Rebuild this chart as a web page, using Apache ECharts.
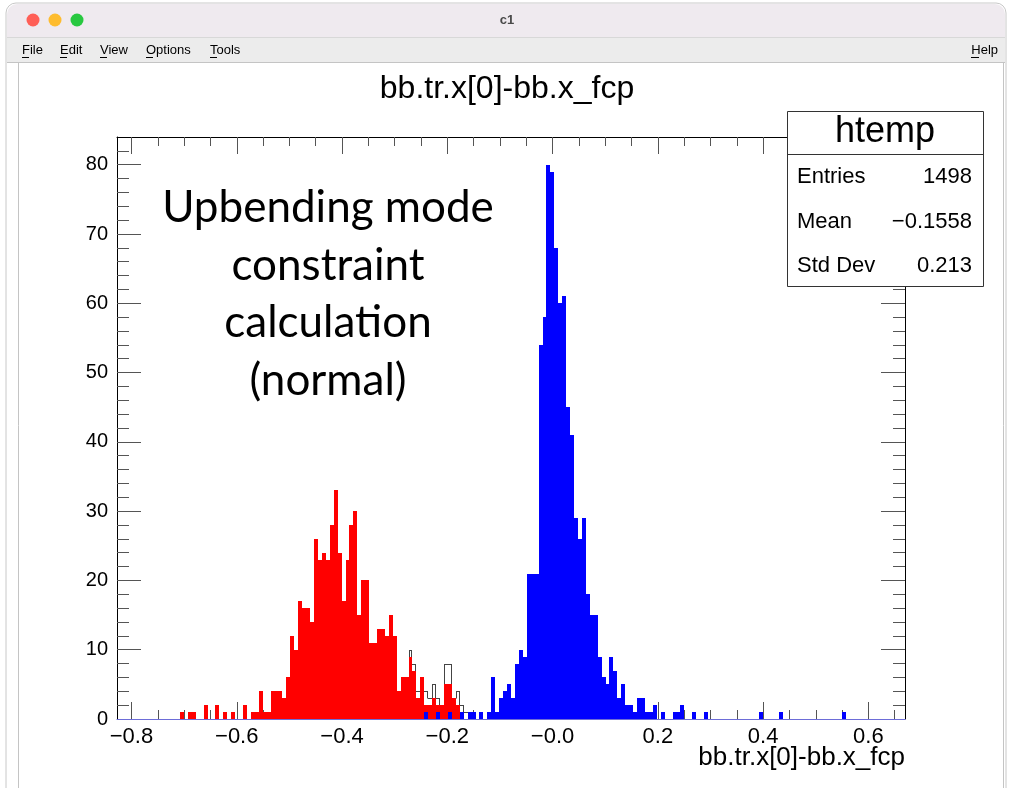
<!DOCTYPE html>
<html><head><meta charset="utf-8">
<script src="https://cdn.jsdelivr.net/npm/echarts@6/dist/echarts.min.js"></script>
<style>html,body{margin:0;padding:0;background:#ffffff;} #c{width:1012px;height:788px;}</style>
</head><body><div id="c"></div>
<script>
// ---- histogram definition ----
const X_MIN = -0.8275, X_MAX = 0.6695, N_BINS = 200;
const Y_MIN = 0, Y_MAX = 84;

// red selection (bin index of first value = RED_FIRST_BIN)
const RED_FIRST_BIN = 16;
const redCounts = [1,0,1,1,0,0,2,0,0,2,0,1,0,1,0,0,2,0,1,1,4,1,1,4,4,4,3,6,12,10,17,16,16,14,26,23,24,23,28,33,24,17,23,28,30,15,20,20,11,11,13,13,12,15,12,4,6,6,9,7,3,6,2,2,3,2,2,5,5,3,2,1];

// blue selection
const BLUE_FIRST_BIN = 78;
const blueCounts = [1,0,0,1,0,0,1,0,0,1,0,1,1,0,1,0,1,6,1,3,4,5,3,8,10,9,21,21,21,54,58,80,79,68,60,61,45,41,29,26,29,18,15,15,9,6,5,9,7,3,5,2,2,1,3,3,1,1,2,0,1,0,0,1,1,2,0,0,1,0,0,1,0,0,0,0,0,0,0,0,0,0,0,0,0,1,0,0,0,0,1,0,0,0,0,0,0,0,0,0,0,0,0,0,0,0,1];

// all entries (htemp outline)
const TOTAL_FIRST_BIN = 16;
const totalCounts = [1,0,1,1,0,0,2,0,0,2,0,1,0,1,0,0,2,0,1,1,4,1,1,4,4,4,3,6,12,10,17,16,16,14,26,23,24,23,28,33,24,17,23,28,30,15,20,20,11,11,13,13,12,15,12,4,6,6,10,8,4,6,4,3,5,3,2,8,8,3,4,2,1,1,1,0,1,0,1,6,1,3,4,5,3,8,10,9,21,21,21,54,58,80,79,68,60,61,45,41,29,26,29,18,15,15,9,6,5,9,7,3,5,2,2,1,3,3,1,1,2,0,1,0,0,1,1,2,0,0,1,0,0,1,0,0,0,0,0,0,0,0,0,0,0,0,0,1,0,0,0,0,1,0,0,0,0,0,0,0,0,0,0,0,0,0,0,0,1];

// axis ticks and labels
const xMajorTicks = [-0.8,-0.6,-0.4,-0.2,0,0.2,0.4,0.6];
const xTickLabels = ['\u22120.8','\u22120.6','\u22120.4','\u22120.2','\u22120.0','0.2','0.4','0.6'];
const xMinorTicks = [-0.75,-0.7,-0.65,-0.55,-0.5,-0.45,-0.35,-0.3,-0.25,-0.15,-0.1,-0.05,0.05,0.1,0.15,0.25,0.3,0.35,0.45,0.5,0.55,0.65];
const yMajorTicks = [0,10,20,30,40,50,60,70,80];
const yTickLabels = ['0','10','20','30','40','50','60','70','80'];
const yMinorTicks = [2,4,6,8,12,14,16,18,22,24,26,28,32,34,36,38,42,44,46,48,52,54,56,58,62,64,66,68,72,74,76,78,82];

// texts
const histTitle = 'bb.tr.x[0]-bb.x_fcp';
const xAxisTitle = 'bb.tr.x[0]-bb.x_fcp';
const statsName = 'htemp';
const statsRows = [['Entries','1498'],['Mean','\u22120.1558'],['Std Dev','0.213']];
const noteLines = ['Upbending mode','constraint','calculation','(normal)'];
const menuItems = ['File','Edit','View','Options','Tools'];
const windowTitle = 'c1';

// ---- build ----
const BW = (X_MAX - X_MIN) / N_BINS;
function binRects(first, counts) {
  const out = [];
  counts.forEach((c, k) => { if (c > 0) { const i = first + k; out.push([X_MIN + i * BW, X_MIN + (i + 1) * BW, c]); } });
  return out;
}
function outlineBins(first, counts) {
  const out = [];
  const get = i => { const k = i - first; return (k >= 0 && k < counts.length) ? counts[k] : 0; };
  for (let i = 0; i <= N_BINS; i++) {
    const c = i < N_BINS ? get(i) : 0, prev = i > 0 ? get(i - 1) : 0;
    if (c > 0 || prev > 0) out.push([X_MIN + i * BW, X_MIN + (i + 1) * BW, c, prev]);
  }
  return out;
}
function barSeries(name, data, color, z) {
  return {
    type: 'custom', name, data, z,
    xAxisIndex: 0, yAxisIndex: 0,
    encode: { x: [0, 1], y: 2 },
    renderItem: (params, api) => {
      const p0 = api.coord([api.value(0), api.value(2)]);
      const p1 = api.coord([api.value(1), 0]);
      const x0 = Math.round(p0[0]), x1 = Math.round(p1[0]);
      const y0 = Math.round(p0[1]), y1 = Math.round(p1[1]);
      return { type: 'rect', shape: { x: x0, y: y0, width: x1 - x0, height: y1 - y0 }, style: { fill: color, stroke: null } };
    }
  };
}
function outlineSeries(name, data, color, z) {
  return {
    type: 'custom', name, data, z,
    xAxisIndex: 0, yAxisIndex: 0,
    encode: { x: [0, 1], y: 2 },
    renderItem: (params, api) => {
      const lo = api.value(0), hi = api.value(1), c = api.value(2), prev = api.value(3);
      const xl = Math.round(api.coord([lo, 0])[0]);
      const xr = Math.round(api.coord([hi, 0])[0]);
      const yc = Math.round(api.coord([lo, c])[1]) + 0.5;
      const yp = Math.round(api.coord([lo, prev])[1]) + 0.5;
      const xv = prev > c ? xl - 0.5 : xl + 0.5;
      const children = [];
      if (c > 0) children.push({ type: 'line', shape: { x1: xl, y1: yc, x2: xr, y2: yc }, style: { stroke: color, lineWidth: 1 } });
      if (c !== prev) children.push({ type: 'line', shape: { x1: xv, y1: yp, x2: xv, y2: yc }, style: { stroke: color, lineWidth: 1 } });
      return { type: 'group', children };
    }
  };
}
const FONT = 'Liberation Sans';
const tickColor = '#555';
function labelFor(ticks, labels) {
  return v => { const i = ticks.findIndex(t => Math.abs(t - v) < 1e-9); return i >= 0 ? labels[i] : ''; };
}
function xAx(pos, ticks, len, showLine, lineColor, labels, z) {
  return {
    type: 'value', position: pos, min: X_MIN, max: X_MAX, z: z || 0,
    axisLine: { show: showLine, onZero: false, lineStyle: { color: lineColor || '#000', width: 1 } },
    axisTick: { show: ticks.length > 0, inside: true, length: len, customValues: ticks, lineStyle: { color: tickColor, width: 1 } },
    axisLabel: labels ? { show: true, customValues: ticks, formatter: labelFor(ticks, labels), fontFamily: FONT, fontSize: 22, color: '#000', margin: 7 } : { show: false },
    splitLine: { show: false }, minorTick: { show: false }
  };
}
function yAx(pos, ticks, len, showLine, labels) {
  return {
    type: 'value', position: pos, min: Y_MIN, max: Y_MAX,
    axisLine: { show: showLine, onZero: false, lineStyle: { color: '#000', width: 1 } },
    axisTick: { show: true, inside: true, length: len, customValues: ticks, lineStyle: { color: tickColor, width: 1 } },
    axisLabel: labels ? { show: true, customValues: ticks, formatter: labelFor(ticks, labels), fontFamily: FONT, fontSize: 20, color: '#000', margin: 9 } : { show: false },
    splitLine: { show: false }
  };
}

const graphics = [];
// window chrome
graphics.push({ type: 'rect', shape: { x: 6, y: 3, width: 1000, height: 800, r: 10 }, style: { fill: '#ffffff', stroke: '#c8c8c8', lineWidth: 1 }, z: -10 });
graphics.push({ type: 'rect', shape: { x: 7, y: 4, width: 998, height: 33, r: [10, 10, 0, 0] }, style: { fill: '#efeaef' }, z: -9 });
graphics.push({ type: 'rect', shape: { x: 7, y: 37, width: 998, height: 25 }, style: { fill: '#ececec' }, z: -9 });
graphics.push({ type: 'line', shape: { x1: 7, y1: 37.5, x2: 1005, y2: 37.5 }, style: { stroke: '#d8d8d8' }, z: -8 });
graphics.push({ type: 'line', shape: { x1: 7, y1: 62.5, x2: 1005, y2: 62.5 }, style: { stroke: '#c4c4c4' }, z: -8 });
graphics.push({ type: 'line', shape: { x1: 18.5, y1: 63, x2: 18.5, y2: 788 }, style: { stroke: '#c4c4c4' }, z: -8 });
graphics.push({ type: 'line', shape: { x1: 1003.5, y1: 63, x2: 1003.5, y2: 788 }, style: { stroke: '#c4c4c4' }, z: -8 });
[['#ff5f57', 33], ['#febc2e', 55], ['#28c840', 77]].forEach(([c, x]) => graphics.push({ type: 'circle', shape: { cx: x, cy: 20, r: 6.5 }, style: { fill: c }, z: -7 }));
graphics.push({ type: 'text', x: 507, y: 20, style: { text: windowTitle, font: 'bold 13px "Liberation Sans"', fill: '#4a4a4a', align: 'center', verticalAlign: 'middle' }, z: -7 });
const menuX = [22, 60, 100, 146, 210];
menuItems.forEach((m, i) => {
  graphics.push({ type: 'text', x: menuX[i], y: 50, style: { text: m, font: '13px "Liberation Sans"', fill: '#000', align: 'left', verticalAlign: 'middle' }, z: -7 });
  graphics.push({ type: 'line', shape: { x1: menuX[i], y1: 57.5, x2: menuX[i] + 7, y2: 57.5 }, style: { stroke: '#000', lineWidth: 1 }, z: -7 });
});
graphics.push({ type: 'text', x: 998, y: 50, style: { text: 'Help', font: '13px "Liberation Sans"', fill: '#000', align: 'right', verticalAlign: 'middle' }, z: -7 });
graphics.push({ type: 'line', shape: { x1: 971, y1: 57.5, x2: 979, y2: 57.5 }, style: { stroke: '#000', lineWidth: 1 }, z: -7 });
// title
graphics.push({ type: 'text', x: 507, y: 89, style: { text: histTitle, font: '32px "Liberation Sans"', fill: '#000', align: 'center', verticalAlign: 'middle' }, z: 5 });
// x axis title
graphics.push({ type: 'text', x: 905, y: 758, style: { text: xAxisTitle, font: '26px "Liberation Sans"', fill: '#000', align: 'right', verticalAlign: 'middle' }, z: 5 });
// annotation
noteLines.forEach((t, i) => graphics.push({ type: 'text', x: 328, y: 208 + i * 57.5, style: { text: t, font: '44px Lato', fill: '#000', align: 'center', verticalAlign: 'middle' }, z: 5 }));
// stats box
graphics.push({ type: 'rect', shape: { x: 787.5, y: 111.5, width: 196, height: 175 }, style: { fill: '#ffffff', stroke: '#333', lineWidth: 1 }, z: 50 });
graphics.push({ type: 'line', shape: { x1: 787.5, y1: 154.5, x2: 983.5, y2: 154.5 }, style: { stroke: '#333', lineWidth: 1 }, z: 51 });
graphics.push({ type: 'text', x: 885, y: 132, style: { text: statsName, font: '36px "Liberation Sans"', fill: '#000', align: 'center', verticalAlign: 'middle' }, z: 51 });
statsRows.forEach((r, i) => {
  const y = 177 + i * 44.5;
  graphics.push({ type: 'text', x: 797, y, style: { text: r[0], font: '22px "Liberation Sans"', fill: '#000', align: 'left', verticalAlign: 'middle' }, z: 51 });
  graphics.push({ type: 'text', x: 972, y, style: { text: r[1], font: '22px "Liberation Sans"', fill: '#000', align: 'right', verticalAlign: 'middle' }, z: 51 });
});

const option = {
  animation: false,
  backgroundColor: '#ffffff',
  grid: { left: 117, top: 137, width: 788, height: 582, containLabel: false, show: false },
  xAxis: [
    xAx('bottom', xMajorTicks, 17, false, '#000', xTickLabels),
    xAx('bottom', xMinorTicks, 9, false),
    xAx('top', xMajorTicks, 17, true, '#000'),
    xAx('top', xMinorTicks, 9, false),
    xAx('bottom', [], 0, true, '#6d6dd8', null, 10)
  ],
  yAxis: [
    yAx('left', yMajorTicks, 24, true, yTickLabels),
    yAx('left', yMinorTicks, 12, false),
    yAx('right', yMajorTicks, 24, true),
    yAx('right', yMinorTicks, 12, false)
  ],
  series: [
    outlineSeries('htemp', outlineBins(TOTAL_FIRST_BIN, totalCounts), '#444', 1),
    barSeries('red', binRects(RED_FIRST_BIN, redCounts), '#ff0000', 2),
    barSeries('blue', binRects(BLUE_FIRST_BIN, blueCounts), '#0000ff', 3)
  ],
  graphic: graphics
};
const chart = echarts.init(document.getElementById('c'), null, { renderer: 'canvas' });
chart.setOption(option);
</script></body></html>
